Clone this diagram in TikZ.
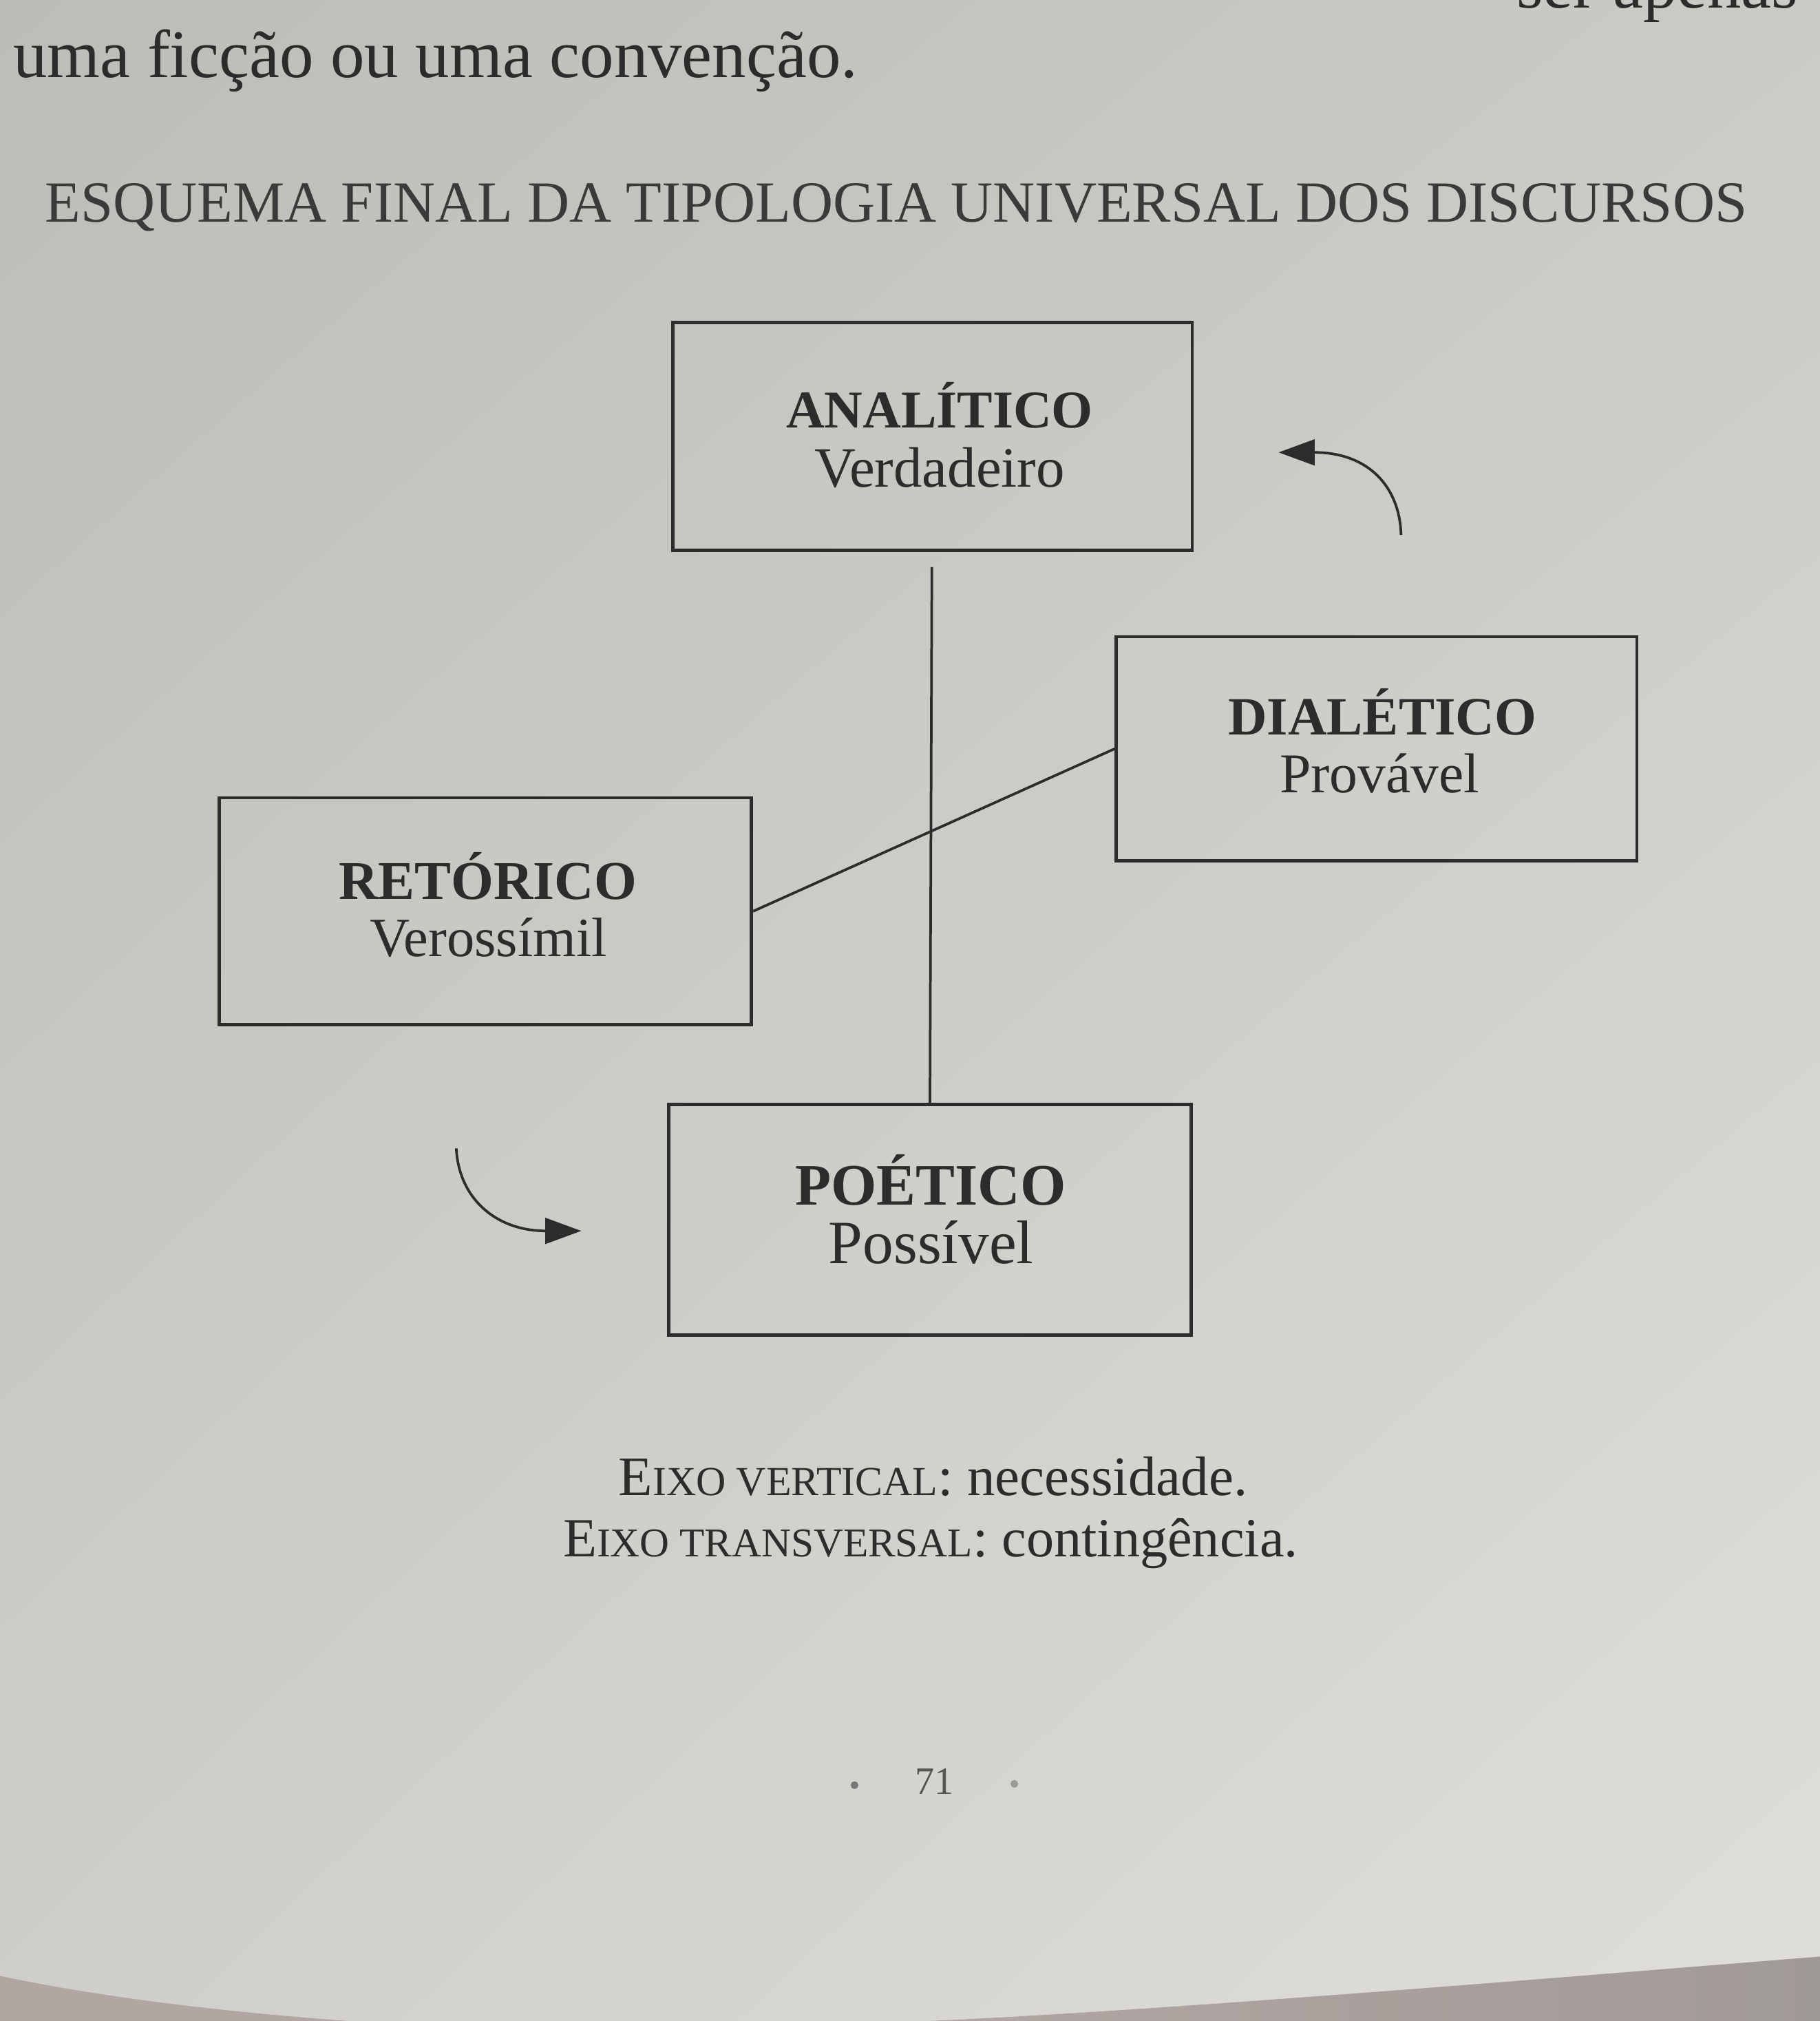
\documentclass[tikz,border=0pt]{standalone}
\usepackage{fontspec}
\setmainfont{Liberation Serif}
\usetikzlibrary{arrows.meta,shadings}
\definecolor{paperUL}{RGB}{190,188,182}
\definecolor{paperUR}{RGB}{204,202,196}
\definecolor{paperLL}{RGB}{208,206,200}
\definecolor{paperLR}{RGB}{224,222,216}
\definecolor{ink}{RGB}{44,44,44}
\definecolor{titleink}{RGB}{58,58,58}
\definecolor{pageink}{RGB}{85,85,85}
\definecolor{clothA}{RGB}{178,166,163}
\definecolor{clothB}{RGB}{160,154,150}
\tikzset{
  boxst/.style={draw=ink, line width=2.6pt, rectangle, inner sep=0pt},
  headst/.style={anchor=base, inner sep=0pt, text=ink, font=\bfseries},
  subst/.style={anchor=base, inner sep=0pt, text=ink},
  txt/.style={anchor=base, inner sep=0pt, text=ink},
  axisst/.style={draw=ink, line width=2pt},
  curvearrow/.style={draw=ink, line width=2pt, -{Triangle[length=28pt,width=20pt]}},
}
\newcommand{\fitw}[2]{\resizebox{#1pt}{!}{#2}}
\newcommand{\fsc}[1]{{\fontsize{7.4}{9}\selectfont #1}}
\begin{document}
\begin{tikzpicture}[x=1pt,y=-1pt]
\useasboundingbox (0,0) rectangle (1412,1568);
\clip (0,0) rectangle (1412,1568);
\shade[upper left=paperUL, upper right=paperUR, lower left=paperLL, lower right=paperLR] (0,0) rectangle (1412,1568);
% cloth under the page, seen past the curled lower edge
\fill[clothA] (0,1533) .. controls (90,1552) and (190,1562) .. (270,1568) -- (0,1568) -- cycle;
\shade[left color=clothA, right color=clothB] (720,1568) .. controls (900,1560) and (1200,1535) .. (1412,1518) -- (1412,1568) -- cycle;

% running text
\node[txt, anchor=base east] (prevline) at (1395,6) {\fitw{218}{ser apenas}};
\node[txt, anchor=base west] (line2) at (10,60) {\fitw{655}{uma ficção ou uma convenção.}};
\node[txt, anchor=base west, text=titleink] (title) at (35,172) {\fitw{1320}{ESQUEMA FINAL DA TIPOLOGIA UNIVERSAL DOS DISCURSOS}};

% boxes
\node[boxst, minimum width=403pt, minimum height=177pt] (ana) at (723.5,338.5) {};
\node[boxst, minimum width=404pt, minimum height=174pt] (dia) at (1068,581) {};
\node[boxst, minimum width=413pt, minimum height=176pt] (ret) at (376.5,707) {};
\node[boxst, minimum width=405pt, minimum height=179pt] (poe) at (721.5,946.5) {};

% labels
\node[headst] (anaH) at (729,332) {\fitw{238}{ANALÍTICO}};
\node[subst]  (anaS) at (729,378) {\fitw{194}{Verdadeiro}};
\node[headst] (diaH) at (1072.5,570) {\fitw{239}{DIALÉTICO}};
\node[subst]  (diaS) at (1070.5,615) {\fitw{155}{Provável}};
\node[headst] (retH) at (378.5,698) {\fitw{231}{RETÓRICO}};
\node[subst]  (retS) at (379,742) {\fitw{184}{Verossímil}};
\node[headst] (poeH) at (722,935) {\fitw{210}{POÉTICO}};
\node[subst]  (poeS) at (722.5,980) {\fitw{159}{Possível}};

% axes
\coordinate (vtop) at (723,440);
\draw[axisst] (vtop) -- (poe.north);
\draw[axisst] (ret.east) -- (dia.west);

% curved arrows
\coordinate (a1s) at (1087,415);
\coordinate (a1e) at (992,351);
\draw[curvearrow] (a1s) .. controls (1086,378) and (1062,351) .. (a1e);
\coordinate (a2s) at (354,891);
\coordinate (a2e) at (451,955);
\draw[curvearrow] (a2s) .. controls (356,930) and (385,955) .. (a2e);

% caption
\node[txt] (cap1) at (724,1160) {\fitw{488}{E\fsc{IXO VERTICAL}: necessidade.}};
\node[txt] (cap2) at (722,1208) {\fitw{570}{E\fsc{IXO TRANSVERSAL}: contingência.}};

% page number
\node[txt, text=pageink] (pnum) at (725,1392) {\fitw{30}{71}};
\fill[pageink!80] (663,1385) circle (3);
\fill[pageink!60] (787,1384) circle (3);
\end{tikzpicture}
\end{document}
